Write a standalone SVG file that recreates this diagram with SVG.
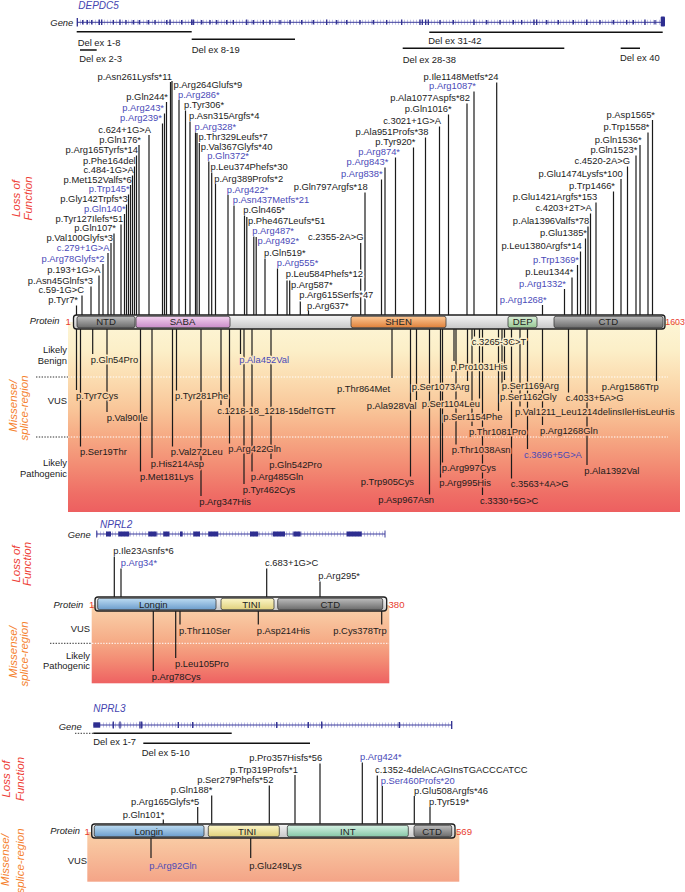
<svg xmlns="http://www.w3.org/2000/svg" width="685" height="892" viewBox="0 0 685 892">
<defs>
<style>
text{font-family:"Liberation Sans",Arial,sans-serif}
.l{font-size:9.4px;fill:#1b1b1b}
.b{fill:#4a4ab8}
.e{text-anchor:end}
.m{text-anchor:middle}
.it{font-style:italic}
.c{stroke:#1b1b1b;stroke-width:1.2;fill:none}
.hd{stroke:url(#gD);stroke-width:3;paint-order:stroke;stroke-linejoin:round}
.hw{stroke:#fff;stroke-width:3;paint-order:stroke;stroke-linejoin:round}
.lof{font-size:11.5px;font-style:italic;fill:#ee4036;text-anchor:middle}
.mis{font-size:11.5px;font-style:italic;fill:#f5822f;text-anchor:middle}
.red{fill:#e8402f;font-size:9.6px}
.dom{font-size:9.6px;text-anchor:middle;fill:#222}
.gn{font-size:10px;font-style:italic;fill:#4444b0}
.gl{stroke:#3c3c9c;stroke-width:1;fill:none}
.gh{stroke:#a8a8dc;stroke-width:5;stroke-dasharray:0.7 2.3;fill:none}
.ex{stroke:#2e2e90;stroke-width:1.3;fill:none}
.del{stroke:#111;stroke-width:1.6;fill:none}
.dk{stroke:#333;stroke-width:1;stroke-dasharray:1.4 1.4;fill:none}
.wd{stroke:#fff;stroke-width:1;stroke-dasharray:1.4 1.4;fill:none}
.bar{stroke:#1e1e1e;stroke-width:1.3}
.dm{stroke:#3a3a3a;stroke-width:0.8}
</style>
<linearGradient id="gD" gradientUnits="userSpaceOnUse" x1="0" y1="322" x2="0" y2="512">
<stop offset="0" stop-color="#fdf5d6"/><stop offset="0.15" stop-color="#fcefc8"/><stop offset="0.3" stop-color="#fbdcb0"/><stop offset="0.45" stop-color="#f9c79a"/><stop offset="0.6" stop-color="#f6aa84"/><stop offset="0.75" stop-color="#f38d74"/><stop offset="0.9" stop-color="#ef6f66"/><stop offset="1" stop-color="#ed5f60"/>
</linearGradient>
<linearGradient id="g2" gradientUnits="userSpaceOnUse" x1="0" y1="611" x2="0" y2="683">
<stop offset="0" stop-color="#f9cda6"/><stop offset="0.4" stop-color="#f6ad88"/><stop offset="0.7" stop-color="#f38a73"/><stop offset="1" stop-color="#ee6262"/>
</linearGradient>
<linearGradient id="g3" gradientUnits="userSpaceOnUse" x1="0" y1="838" x2="0" y2="882">
<stop offset="0" stop-color="#f9cba4"/><stop offset="1" stop-color="#f4a487"/>
</linearGradient>
<linearGradient id="gLt" x1="0" y1="0" x2="0" y2="1"><stop offset="0" stop-color="#f6f6f6"/><stop offset="1" stop-color="#c6c6c6"/></linearGradient>
<linearGradient id="gGr" x1="0" y1="0" x2="0" y2="1"><stop offset="0" stop-color="#bdbdbd"/><stop offset="1" stop-color="#6c6c6c"/></linearGradient>
<linearGradient id="gPk" x1="0" y1="0" x2="0" y2="1"><stop offset="0" stop-color="#f3d2ef"/><stop offset="1" stop-color="#c98cc8"/></linearGradient>
<linearGradient id="gOr" x1="0" y1="0" x2="0" y2="1"><stop offset="0" stop-color="#fcc895"/><stop offset="1" stop-color="#df803a"/></linearGradient>
<linearGradient id="gGn" x1="0" y1="0" x2="0" y2="1"><stop offset="0" stop-color="#dcf0d8"/><stop offset="1" stop-color="#98c894"/></linearGradient>
<linearGradient id="gBl" x1="0" y1="0" x2="0" y2="1"><stop offset="0" stop-color="#bddcf2"/><stop offset="1" stop-color="#6c9dcc"/></linearGradient>
<linearGradient id="gYl" x1="0" y1="0" x2="0" y2="1"><stop offset="0" stop-color="#fcf6c8"/><stop offset="1" stop-color="#e0d07c"/></linearGradient>
<linearGradient id="gMt" x1="0" y1="0" x2="0" y2="1"><stop offset="0" stop-color="#d6f2e4"/><stop offset="1" stop-color="#86c6a6"/></linearGradient>
</defs>
<rect width="685" height="892" fill="#fff"/>

<!-- backgrounds -->
<g id="backgrounds">
<rect x="68" y="322" width="612" height="190" fill="url(#gD)"/>
<rect x="91.7" y="605" width="297.6" height="78.3" fill="url(#g2)"/>
<rect x="87.3" y="832" width="372" height="49.7" fill="url(#g3)"/>
<path class="dk" d="M36 377H68M36 437H68M50 643.3H92"/>
<path class="wd" d="M68 377H668M68 437H668M92 643.3H389"/>
</g>

<!-- side labels -->
<g id="side-labels">
<text class="lof" transform="translate(20,198.5) rotate(-90)">Loss of</text>
<text class="lof" transform="translate(31.5,198.5) rotate(-90)">Function</text>
<text class="mis" transform="translate(16.5,406) rotate(-90)">Missense/</text>
<text class="mis" transform="translate(28,408) rotate(-90)">splice-region</text>
<text class="lof" transform="translate(20,564) rotate(-90)">Loss of</text>
<text class="lof" transform="translate(30.5,564) rotate(-90)">Function</text>
<text class="mis" transform="translate(16.5,652) rotate(-90)">Missense/</text>
<text class="mis" transform="translate(27.5,654) rotate(-90)">splice-region</text>
<text class="lof" transform="translate(10,779) rotate(-90)">Loss of</text>
<text class="lof" transform="translate(24,779) rotate(-90)">Function</text>
<text class="mis" transform="translate(9,860) rotate(-90)">Missense/</text>
<text class="mis" transform="translate(24,861) rotate(-90)">splice-region</text>
<text class="l e" x="67" y="352.5">Likely</text>
<text class="l e" x="67" y="363.5">Benign</text>
<text class="l e" x="67" y="403.5">VUS</text>
<text class="l e" x="67" y="466">Likely</text>
<text class="l e" x="67" y="476.5">Pathogenic</text>
<text class="l e" x="90" y="632">VUS</text>
<text class="l e" x="90" y="658.5">Likely</text>
<text class="l e" x="90" y="668.5">Pathogenic</text>
<text class="l e" x="87" y="864">VUS</text>
</g>

<!-- DEPDC5 gene track -->
<g id="depdc5-gene">
<text class="gn" x="78.3" y="9">DEPDC5</text>
<text class="l it e" x="73.3" y="25.5">Gene</text>
<path class="gh" d="M77 22.3H661"/>
<path class="gl" d="M77 22.3H662"/>
<path class="ex" d="M77.3 18V26.5M82.7 20V24.6M87.3 20V24.6M91.7 20V24.6M99.3 19.5V25M101.7 19.5V25M113.3 20V24.6M120 19.5V25M126 20V24.6M133.3 20V24.6M139.3 20V24.6M148.3 20V24.6M155 20V24.6M166.7 20V24.6M170 19.5V25M181.7 20V24.6M191.7 19.5V25M193.3 19.5V25M201.7 20V24.6M210 20V24.6M216.7 20V24.6M226.7 20V24.6M233.3 20V24.6M246.7 19.5V25M253.3 20V24.6M263.3 20V24.6M270 20V24.6M280 20V24.6M290 20V24.6M301.7 20V24.6M313.3 20V24.6M326.7 19.5V25M336.7 20V24.6M346.7 20V24.6M360 20V24.6M373.3 20V24.6M386.7 20V24.6M401.7 19.5V25M420 19.5V25M422.3 19.5V25M425.7 19.5V25M428.3 19.5V25M440 20V24.6M453.3 20V24.6M474 19.5V25M486.7 20V24.6M500 20V24.6M513.3 20V24.6M521.7 20V24.6M534 19.5V25M536.7 19.5V25M546.7 20V24.6M558.3 20V24.6M573.3 20V24.6M586.7 19.5V25M600 20V24.6M613.3 20V24.6M626.7 20V24.6M633.3 20V24.6M645 19.5V25M655 20V24.6"/>
<rect x="660.7" y="16.5" width="4.3" height="10" rx="1" fill="#2e2e90"/>
<path class="del" d="M76.7 31.7H191.7M80 50H96.7M191.7 39.3H295M429.3 32.3H662.7M402.7 48.3H564.3M620.7 48.3H640"/>
<text class="l" x="77.7" y="46">Del ex 1-8</text>
<text class="l" x="79.3" y="61.5">Del ex 2-3</text>
<text class="l" x="191.7" y="52.5">Del ex 8-19</text>
<text class="l" x="428.3" y="44">Del ex 31-42</text>
<text class="l" x="402.7" y="62.5">Del ex 28-38</text>
<text class="l" x="620" y="61">Del ex 40</text>
</g>

<!-- connectors -->
<g id="connectors">
<path class="c" d="M170.5 82V315M172 81V315M166.5 102V315M164.5 113.5V315M162.5 123.5V315M149 135V315M139 145V315M136.5 155.5V315M134.5 166.5V315M132.5 175.5V315M130.5 185V315M128.5 194.5V315M126.5 204.5V315M124.5 214V315M121 224.5V315M114 233.5V315M111 243V315M108 253V315M103 264V315M99 275.5V315M91 286.5V315M82 295.5V315M76.5 305.5V315"/>
<path class="c" d="M179 100V315M185.5 110.5V315M190 121.5V315M195.5 132.5V315M197 133V315M199.3 143V315M208.8 161.5V315M211.7 172.5V315M215.5 184V315M228 195V315M234 205.5V315M244.5 215.5V315M246.8 217V315M253.8 236.5V315M256.2 237V315M265 258.5V315M277.5 268.5V315M287 279.5V315M289.7 280.5V315M300.3 300.5V315M308.5 310.5V315M365 192.5V315M360.7 243V315"/>
<path class="c" d="M496.7 82.5V315M474 91.5V315M467 103.5V315M448.5 114.5V315M439.5 126.5V315M425.5 137.5V315M413.5 147.5V315M395.5 157.5V315M385 167.5V315M381.5 179.5V315"/>
<path class="c" d="M652.5 120V315M648 132.5V315M640 145V315M636 155.5V315M627.5 166.5V315M621 179V315M613.5 191.5V315M596 202.5V315M590.5 213.5V315M588 226.5V315M585.5 238.5V315M580.5 251.5V315M577.5 265V315M572 277.5V315M564.5 289V315M542.5 305V315"/>
<path class="c" d="M76.5 329V390M80.5 329V446.5M92.7 329V354M107 329V412M140.5 329V471.5M152 329V458M172.5 329V446.5M176.5 329V390.5M201 329V496M221 329V405M229.5 329V443.5M240.5 329V354M244 329V484M252 329V471.5M271 329V459M392 329V378M416.5 329V400M410.5 329V476.5M429.5 329V494.5M467.5 329V381M479.5 329V398.5M498.5 329V411M472 329V426M456 329V444.5M442.5 329V462.5M440.5 329V477.5M482.5 329V495M474.5 329V336.5M454 329V361M504.5 329V380M502 329V391M520 329V406.5M542.5 329V425M527.5 329V449M511.5 329V478.5M568.5 329V392.5M587 329V465M656.5 329V381"/>
<path class="c" d="M114.3 556.5V597M121 568.5V597M266.7 568.5V597M320 581.5V597M180 611V624.5M258.3 611V624.5M381.7 611V624.5M175.7 611V658M153.3 611V671"/>
<path class="c" d="M163.3 819.5V824M197.7 807V824M211.7 795.5V824M269.3 785.5V824M295 775V824M320 763.5V824M362.3 762.5V824M377.3 775.5V824M382.3 786V824M414.3 796V824M430 807V824M151 838V858M250.7 838V858"/>
</g>

<!-- DEPDC5 protein -->
<g id="depdc5-protein">
<text class="l it e" x="59.5" y="324">Protein</text>
<text class="red" x="65.5" y="325">1</text>
<text class="red" x="665.3" y="325" style="font-size:8.8px">1603</text>
<rect class="bar" x="73.5" y="315" width="591.5" height="14" rx="3" fill="url(#gLt)"/>
<rect class="dm" x="77" y="316.3" width="58" height="11.4" rx="2" fill="url(#gGr)"/>
<rect class="dm" x="136" y="316.3" width="94" height="11.4" rx="2" fill="url(#gPk)"/>
<rect class="dm" x="351" y="316.3" width="95" height="11.4" rx="2" fill="url(#gOr)"/>
<rect class="dm" x="508" y="316.3" width="29" height="11.4" rx="2" fill="url(#gGn)"/>
<rect class="dm" x="554" y="316.3" width="109" height="11.4" rx="2" fill="url(#gGr)"/>
<text class="dom" x="106" y="325.3">NTD</text>
<text class="dom" x="182.5" y="325.3">SABA</text>
<text class="dom" x="398.5" y="325.3">SHEN</text>
<text class="dom" x="522.7" y="325.3">DEP</text>
<text class="dom" x="608.3" y="325.3">CTD</text>
</g>

<!-- DEPDC5 loss-of-function labels -->
<g id="depdc5-lof">
<text class="l e" x="172" y="79.5">p.Asn261Lysfs*11</text>
<text class="l e" x="168" y="99.5">p.Gln244*</text>
<text class="l e b" x="164" y="111">p.Arg243*</text>
<text class="l e b" x="161.8" y="121">p.Arg239*</text>
<text class="l e" x="151" y="132.5">c.624+1G&gt;A</text>
<text class="l e" x="141" y="142.5">p.Gln176*</text>
<text class="l e" x="138" y="153">p.Arg165Tyrfs*14</text>
<text class="l e" x="135.7" y="164">p.Phe164del</text>
<text class="l e" x="133.7" y="173">c.484-1G&gt;A</text>
<text class="l e" x="131.7" y="182.5">p.Met152Valfs*6</text>
<text class="l e b" x="129.7" y="192">p.Trp145*</text>
<text class="l e" x="127.7" y="202">p.Gly142Trpfs*3</text>
<text class="l e b" x="125.7" y="211.5">p.Gln140*</text>
<text class="l e" x="123.3" y="222">p.Tyr127Ilefs*51</text>
<text class="l e" x="116" y="231">p.Gln107*</text>
<text class="l e" x="113" y="240.5">p.Val100Glyfs*3</text>
<text class="l e b" x="109.5" y="250.5">c.279+1G&gt;A</text>
<text class="l e b" x="104.5" y="261.5">p.Arg78Glyfs*2</text>
<text class="l e" x="100.5" y="273">p.193+1G&gt;A</text>
<text class="l e" x="93" y="284">p.Asn45Glnfs*3</text>
<text class="l e" x="84" y="293">c.59-1G&gt;C</text>
<text class="l e" x="78" y="303">p.Tyr7*</text>

<text class="l" x="173.5" y="88">p.Arg264Glufs*9</text>
<text class="l b" x="178" y="97.5">p.Arg286*</text>
<text class="l" x="184" y="108">p.Tyr306*</text>
<text class="l" x="189" y="119">p.Asn315Argfs*4</text>
<text class="l b" x="194.5" y="130">p.Arg328*</text>
<text class="l" x="198.5" y="140">p.Thr329Leufs*7</text>
<text class="l" x="200.7" y="150">p.Val367Glyfs*40</text>
<text class="l b" x="207.3" y="159">p.Gln372*</text>
<text class="l" x="210.5" y="170">p.Leu374Phefs*30</text>
<text class="l" x="214.3" y="181.5">p.Arg389Profs*2</text>
<text class="l b" x="226.7" y="192.5">p.Arg422*</text>
<text class="l b" x="232.7" y="203">p.Asn437Metfs*21</text>
<text class="l" x="243.3" y="213">p.Gln465*</text>
<text class="l" x="248" y="224">p.Phe467Leufs*51</text>
<text class="l b" x="252.3" y="234">p.Arg487*</text>
<text class="l b" x="257.5" y="244">p.Arg492*</text>
<text class="l" x="264" y="256">p.Gln519*</text>
<text class="l b" x="276.7" y="266">p.Arg555*</text>
<text class="l hw" x="285.7" y="277">p.Leu584Phefs*12</text>
<text class="l" x="291" y="287.5">p.Arg587*</text>
<text class="l hw" x="299.3" y="298">p.Arg615Serfs*47</text>
<text class="l" x="307" y="308.5">p.Arg637*</text>
<text class="l e" x="367.7" y="190">p.Gln797Argfs*18</text>
<text class="l e" x="363.5" y="240">c.2355-2A&gt;G</text>

<text class="l e" x="498.5" y="80">p.Ile1148Metfs*24</text>
<text class="l e b" x="476" y="89">p.Arg1087*</text>
<text class="l e" x="470" y="101">p.Ala1077Aspfs*82</text>
<text class="l e" x="451.7" y="112">p.Gln1016*</text>
<text class="l e" x="441" y="124">c.3021+1G&gt;A</text>
<text class="l e" x="428.5" y="135">p.Ala951Profs*38</text>
<text class="l e" x="415.5" y="145">p.Tyr920*</text>
<text class="l e b" x="400" y="155">p.Arg874*</text>
<text class="l e b" x="388.3" y="165">p.Arg843*</text>
<text class="l e b" x="382.7" y="177">p.Arg838*</text>

<text class="l e" x="655" y="117.5">p.Asp1565*</text>
<text class="l e" x="649.5" y="130">p.Trp1558*</text>
<text class="l e" x="641.7" y="142.5">p.Gln1536*</text>
<text class="l e" x="637.3" y="153">p.Gln1523*</text>
<text class="l e" x="630" y="164">c.4520-2A&gt;G</text>
<text class="l e" x="622.7" y="176.5">p.Glu1474Lysfs*100</text>
<text class="l e" x="615" y="189">p.Trp1466*</text>
<text class="l e" x="597.3" y="200">p.Glu1421Argfs*153</text>
<text class="l e" x="591.7" y="211">c.4203+2T&gt;A</text>
<text class="l e" x="589.3" y="224">p.Ala1396Valfs*78</text>
<text class="l e" x="587" y="236">p.Glu1385*</text>
<text class="l e" x="581.7" y="249">p.Leu1380Argfs*14</text>
<text class="l e b" x="579" y="262.5">p.Trp1369*</text>
<text class="l e" x="573.3" y="275">p.Leu1344*</text>
<text class="l e b" x="566" y="286.5">p.Arg1332*</text>
<text class="l e b" x="546.7" y="302.5">p.Arg1268*</text>
</g>

<!-- DEPDC5 missense labels -->
<g id="depdc5-missense">
<text class="l hd" x="76" y="398.5">p.Tyr7Cys</text>
<text class="l hd" x="80" y="455">p.Ser19Thr</text>
<text class="l hd" x="90.7" y="362.5">p.Gln54Pro</text>
<text class="l hd" x="106.7" y="420.5">p.Val90Ile</text>
<text class="l hd" x="140" y="480">p.Met181Lys</text>
<text class="l hd" x="150.7" y="466.5">p.His214Asp</text>
<text class="l hd" x="170.7" y="455">p.Val272Leu</text>
<text class="l hd" x="175" y="399">p.Tyr281Phe</text>
<text class="l hd" x="199.3" y="504.5">p.Arg347His</text>
<text class="l hd" x="217.3" y="413.5">c.1218-18_1218-15delTGTT</text>
<text class="l hd" x="228.3" y="452">p.Arg422Gln</text>
<text class="l hd b" x="239.3" y="362.5">p.Ala452Val</text>
<text class="l hd" x="242.7" y="492.5">p.Tyr462Cys</text>
<text class="l hd" x="250.7" y="480">p.Arg485Gln</text>
<text class="l hd" x="269.3" y="467.5">p.Gln542Pro</text>
<text class="l hd" x="337" y="391.5">p.Thr864Met</text>
<text class="l hd" x="366.7" y="408.5">p.Ala928Val</text>
<text class="l hd" x="360.7" y="485">p.Trp905Cys</text>
<text class="l hd" x="378.3" y="503">p.Asp967Asn</text>
<text class="l hd" x="411.7" y="389.5">p.Ser1073Arg</text>
<text class="l hd" x="421.7" y="407">p.Ser1104Leu</text>
<text class="l hd" x="443.3" y="419.5">p.Ser1154Phe</text>
<text class="l hd" x="469" y="434.5">p.Thr1081Pro</text>
<text class="l hd" x="451.7" y="453">p.Thr1038Asn</text>
<text class="l hd" x="441.7" y="471">p.Arg997Cys</text>
<text class="l hd" x="439.3" y="486">p.Arg995His</text>
<text class="l hd" x="480" y="503.5">c.3330+5G&gt;C</text>
<text class="l hd" x="471.7" y="345">c.3265-3C&gt;T</text>
<text class="l hd" x="450.7" y="369.5">p.Pro1031His</text>
<text class="l hd" x="501.7" y="388.5">p.Ser1169Arg</text>
<text class="l hd" x="500" y="399.5">p.Ser1162Gly</text>
<text class="l hd" x="515" y="415">p.Val1211_Leu1214delinsIleHisLeuHis</text>
<text class="l hd" x="540" y="433.5">p.Arg1268Gln</text>
<text class="l hd b" x="524" y="457.5">c.3696+5G&gt;A</text>
<text class="l hd" x="510.7" y="487">c.3563+4A&gt;G</text>
<text class="l hd" x="565.7" y="401">c.4033+5A&gt;G</text>
<text class="l hd" x="584.3" y="473.5">p.Ala1392Val</text>
<text class="l hd" x="601.7" y="389.5">p.Arg1586Trp</text>
</g>

<!-- NPRL2 -->
<g id="nprl2-gene">
<text class="gn" x="100" y="528">NPRL2</text>
<text class="l it e" x="90.7" y="538">Gene</text>
<path class="gh" d="M97 534H385"/>
<path class="gl" d="M96.7 534H385M96.7 530.5V537.5M385 530.5V537.5"/>
<g fill="#2e2e90">
<rect x="106" y="531.5" width="5" height="5"/><rect x="118.3" y="531.5" width="11" height="5"/><rect x="148.3" y="531.5" width="8.4" height="5"/><rect x="163.3" y="531.5" width="6" height="5"/><rect x="180" y="531.5" width="2.7" height="5"/><rect x="193.3" y="531.5" width="6.7" height="5"/><rect x="208.3" y="531.5" width="10" height="5"/><rect x="250" y="531.5" width="8.3" height="5"/><rect x="272.7" y="531.5" width="12.3" height="5"/><rect x="293.3" y="531.5" width="7.4" height="5"/><rect x="346.7" y="531.5" width="15" height="5"/>
</g>
</g>
<g id="nprl2-protein">
<text class="l it e" x="83.3" y="607.5">Protein</text>
<text class="red" x="89" y="608">1</text>
<text class="red" x="388.5" y="608">380</text>
<rect class="bar" x="95" y="597" width="291.7" height="14" rx="3" fill="url(#gLt)"/>
<rect class="dm" x="97.7" y="598.3" width="118.3" height="11.4" rx="2" fill="url(#gBl)"/>
<rect class="dm" x="221" y="598.3" width="53" height="11.4" rx="2" fill="url(#gYl)"/>
<rect class="dm" x="277.7" y="598.3" width="105" height="11.4" rx="2" fill="url(#gGr)"/>
<text class="dom" x="153.3" y="607.5">Longin</text>
<text class="dom" x="251.3" y="607.5">TINI</text>
<text class="dom" x="330.3" y="607.5">CTD</text>
</g>
<g id="nprl2-variants">
<text class="l" x="113.3" y="554">p.Ile23Asnfs*6</text>
<text class="l b" x="120.7" y="566">p.Arg34*</text>
<text class="l" x="265" y="566">c.683+1G&gt;C</text>
<text class="l" x="318.3" y="579">p.Arg295*</text>
<text class="l" x="179" y="633.5">p.Thr110Ser</text>
<text class="l" x="256.7" y="633.5">p.Asp214His</text>
<text class="l" x="333.3" y="633.5">p.Cys378Trp</text>
<text class="l" x="175" y="667">p.Leu105Pro</text>
<text class="l" x="151.7" y="679.5">p.Arg78Cys</text>
</g>

<!-- NPRL3 -->
<g id="nprl3-gene">
<text class="gn" x="93.3" y="712">NPRL3</text>
<text class="l it e" x="81.7" y="729.5">Gene</text>
<path class="gh" d="M100 725H452"/>
<path class="gl" d="M93.3 725H452"/>
<rect x="93.3" y="722.3" width="6.7" height="5.4" fill="#2e2e90"/>
<path class="ex" d="M113.3 721.5V728.5M120 721.5V728.5M140 721.5V728.5M141.7 721.5V728.5M178.3 722V728M192.7 722V728M276.7 722V728M308.3 722V728M321.7 721.5V728.5M399.3 722V728M451.7 721V729"/>
<path class="dk" d="M75 733.3H93.3"/>
<path class="del" d="M93.3 733.3H231.7M143.3 743.3H310"/>
<text class="l" x="93.3" y="745">Del ex 1-7</text>
<text class="l" x="141.7" y="756">Del ex 5-10</text>
</g>
<g id="nprl3-protein">
<text class="l it e" x="80" y="834">Protein</text>
<text class="red" x="84.5" y="834.5">1</text>
<text class="red" x="456" y="834.5">569</text>
<rect class="bar" x="91.7" y="824" width="363.3" height="14" rx="3" fill="url(#gLt)"/>
<rect class="dm" x="94.3" y="825.3" width="109.7" height="11.4" rx="2" fill="url(#gBl)"/>
<rect class="dm" x="208.3" y="825.3" width="71" height="11.4" rx="2" fill="url(#gYl)"/>
<rect class="dm" x="287.3" y="825.3" width="121" height="11.4" rx="2" fill="url(#gMt)"/>
<rect class="dm" x="414" y="825.3" width="37.7" height="11.4" rx="2" fill="url(#gGr)"/>
<text class="dom" x="148.8" y="834.5">Longin</text>
<text class="dom" x="247" y="834.5">TINI</text>
<text class="dom" x="347.8" y="834.5">INT</text>
<text class="dom" x="432" y="834.5">CTD</text>
</g>
<g id="nprl3-variants">
<text class="l" x="122.7" y="817.5">p.Gln101*</text>
<text class="l" x="131" y="804.5">p.Arg165Glyfs*5</text>
<text class="l" x="170.7" y="793">p.Gln188*</text>
<text class="l" x="197.3" y="783">p.Ser279Phefs*52</text>
<text class="l" x="230" y="772.5">p.Trp319Profs*1</text>
<text class="l" x="249.3" y="761">p.Pro357Hisfs*56</text>
<text class="l b" x="360" y="760">p.Arg424*</text>
<text class="l" x="375" y="773">c.1352-4delACAGInsTGACCCATCC</text>
<text class="l b" x="380.7" y="783.5">p.Ser460Profs*20</text>
<text class="l" x="414" y="793.5">p.Glu508Argfs*46</text>
<text class="l" x="429" y="804.5">p.Tyr519*</text>
<text class="l b" x="149.3" y="868.5">p.Arg92Gln</text>
<text class="l" x="249.3" y="868.5">p.Glu249Lys</text>
</g>
</svg>
